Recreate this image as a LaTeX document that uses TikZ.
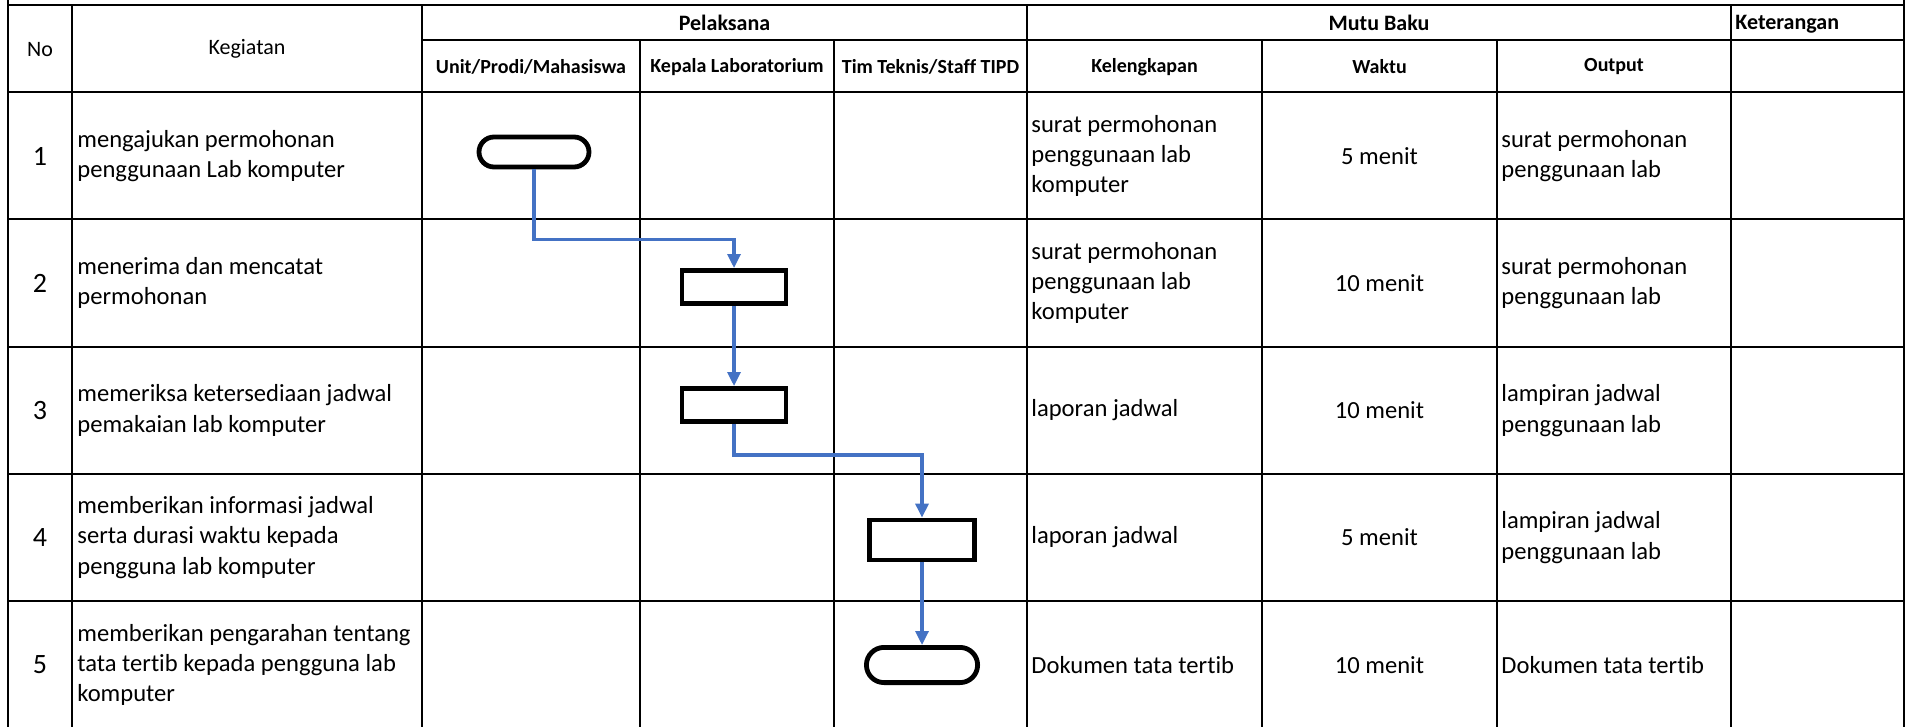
\documentclass[tikz,border=0pt]{standalone}
\usepackage{fontspec}
\setmainfont{Carlito}[Ligatures=NoCommon]
\usepackage{tikz}
\usetikzlibrary{positioning}
\usetikzlibrary{arrows.meta}
\definecolor{flowblue}{HTML}{4472C4}
\tikzset{gridline/.style={draw=black, line width=1.1pt}}
\tikzset{terminal/.style={rectangle, draw=black, line width=2.4pt, inner sep=0pt}}
\tikzset{procbox/.style={rectangle, draw=black, line width=2.4pt, inner sep=0pt}}
\tikzset{flow/.style={draw=flowblue, line width=1.6pt, -{Triangle[length=7pt,width=6.5pt]}}}
\tikzset{head/.style={font=\bfseries\fontsize{10}{12}\selectfont, inner sep=0pt}}
\tikzset{tophead/.style={font=\bfseries\fontsize{11}{13}\selectfont, inner sep=0pt}}
\tikzset{cell/.style={anchor=west, align=left, font=\fontsize{12.3}{15.2}\selectfont, inner sep=0pt}}
\tikzset{mid/.style={align=center, font=\fontsize{12.3}{15.2}\selectfont, inner sep=0pt}}
\tikzset{num/.style={font=\fontsize{14}{16}\selectfont, inner sep=0pt}}

\begin{document}
\begin{tikzpicture}[x=0.5pt, y=-0.5pt]
    \useasboundingbox (0,0) rectangle (1909,727);

    % table lines
    \draw[gridline] (8,-10) -- (8,727);
    \draw[gridline] (1904,-10) -- (1904,727);
    \draw[gridline] (8,5) -- (1904,5);
    \draw[gridline] (422,40) -- (1904,40);
    \draw[gridline] (8,92) -- (1904,92);
    \draw[gridline] (8,219) -- (1904,219);
    \draw[gridline] (8,347) -- (1904,347);
    \draw[gridline] (8,474) -- (1904,474);
    \draw[gridline] (8,601) -- (1904,601);
    \draw[gridline] (72,5) -- (72,727);
    \draw[gridline] (422,5) -- (422,727);
    \draw[gridline] (640,40) -- (640,727);
    \draw[gridline] (834,40) -- (834,727);
    \draw[gridline] (1027,5) -- (1027,727);
    \draw[gridline] (1262,40) -- (1262,727);
    \draw[gridline] (1497,40) -- (1497,727);
    \draw[gridline] (1731,5) -- (1731,727);

    % header
    \node [font=\fontsize{11}{13}\selectfont](hNo) at (40,50) {No};
    \node [font=\fontsize{11}{13}\selectfont](hKeg) at (247,49) {Kegiatan};
    \node [tophead](hPel) at (724.5,23) {Pelaksana};
    \node [tophead](hMutu) at (1379,23) {Mutu Baku};
    \node [tophead, anchor=west](hKet) at (1735,24) {Keterangan};
    \node [head](hUnit) at (531,67) {Unit/Prodi/Mahasiswa};
    \node [head](hKalab) at (737,67) {Kepala Laboratorium};
    \node [head](hTim) at (930.5,67) {Tim Teknis/Staff TIPD};
    \node [head](hKel) at (1144.5,67) {Kelengkapan};
    \node [head](hWaktu) at (1379.5,67) {Waktu};
    \node [head](hOut) at (1614,67) {Output};

    % rows
    \node [num](n1) at (40,156) {1};
    \node [cell](k1) at (77,156) {mengajukan permohonan\\penggunaan Lab komputer};
    \node [cell](kl1) at (1031,156) {surat permohonan\\penggunaan lab\\komputer};
    \node [mid](w1) at (1379.5,156) {5 menit};
    \node [cell](o1) at (1501,156) {surat permohonan\\penggunaan lab};

    \node [num](n2) at (40,283) {2};
    \node [cell](k2) at (77,283) {menerima dan mencatat\\permohonan};
    \node [cell](kl2) at (1031,283) {surat permohonan\\penggunaan lab\\komputer};
    \node [mid](w2) at (1379.5,283) {10 menit};
    \node [cell](o2) at (1501,283) {surat permohonan\\penggunaan lab};

    \node [num](n3) at (40,410.5) {3};
    \node [cell](k3) at (77,410.5) {memeriksa ketersediaan jadwal\\pemakaian lab komputer};
    \node [cell](kl3) at (1031,410.5) {laporan jadwal};
    \node [mid](w3) at (1379.5,410.5) {10 menit};
    \node [cell](o3) at (1501,410.5) {lampiran jadwal\\penggunaan lab};

    \node [num](n4) at (40,537.5) {4};
    \node [cell](k4) at (77,537.5) {memberikan informasi jadwal\\serta durasi waktu kepada\\pengguna lab komputer};
    \node [cell](kl4) at (1031,537.5) {laporan jadwal};
    \node [mid](w4) at (1379.5,537.5) {5 menit};
    \node [cell](o4) at (1501,537.5) {lampiran jadwal\\penggunaan lab};

    \node [num](n5) at (40,665) {5};
    \node [cell](k5) at (77,665) {memberikan pengarahan tentang\\tata tertib kepada pengguna lab\\komputer};
    \node [cell](kl5) at (1031,665) {Dokumen tata tertib};
    \node [mid](w5) at (1379.5,665) {10 menit};
    \node [cell](o5) at (1501,665) {Dokumen tata tertib};

    % flow shapes
    \node [terminal, rounded corners=7.5pt, minimum width=55pt, minimum height=15pt](t1) at (534,152) {};
    \node [procbox, minimum width=52pt, minimum height=16.6pt](b2) at (734,287) {};
    \node [procbox, minimum width=52pt, minimum height=16.6pt](b3) at (734,405) {};
    \node [procbox, minimum width=52.6pt, minimum height=20pt](b4) at (922,540) {};
    \node [terminal, rounded corners=8.8pt, minimum width=55.6pt, minimum height=17.6pt](t5) at (922,665) {};

    \draw[flow] (t1.south) -- ++(0,70) -| (b2.north);
    \draw[flow] (b2.south) -- (b3.north);
    \draw[flow] (b3.south) -- ++(0,31) -| (b4.north);
    \draw[flow] (b4.south) -- (t5.north);
\end{tikzpicture}
\end{document}
